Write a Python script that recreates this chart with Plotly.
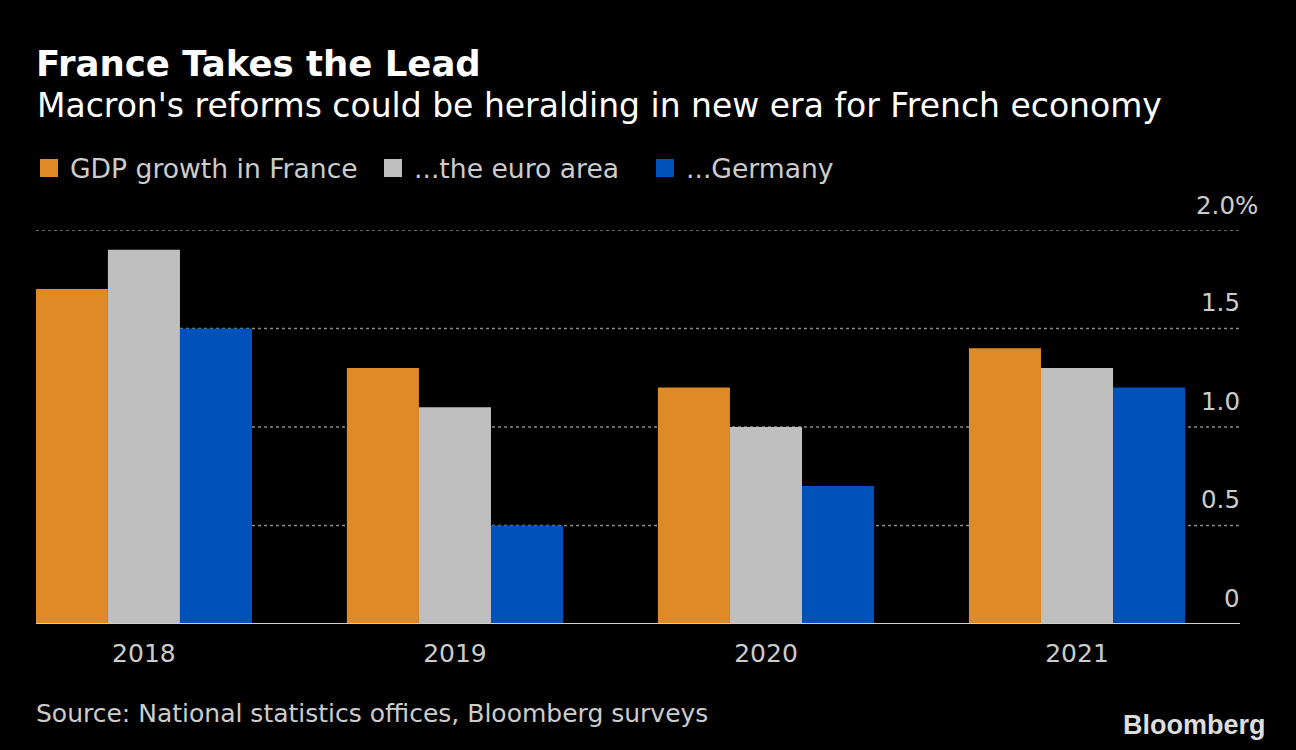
import plotly.graph_objects as go

years = ["2018", "2019", "2020", "2021"]
france = [1.7, 1.3, 1.2, 1.4]
euro_area = [1.9, 1.1, 1.0, 1.3]
germany = [1.5, 0.5, 0.7, 1.2]
series_names = ["GDP growth in France", "...the euro area", "...Germany"]
colors = ["#DE8A26", "#BFBFBF", "#0051BA"]
y_ticks = [0, 0.5, 1.0, 1.5, 2.0]
y_tick_labels = ["0", "0.5", "1.0", "1.5", "2.0%"]

FONT = "DejaVu Sans"
W, H = 1296, 750
L, R, T, B = 36, 56, 230, 126
PW, PH = W - L - R, H - T - B

fig = go.Figure()
for name, vals, col in zip(series_names, [france, euro_area, germany], colors):
    fig.add_trace(go.Bar(x=years, y=vals, name=name, marker=dict(color=col, line=dict(width=0)),
                         showlegend=False))

fig.update_layout(
    width=W, height=H,
    paper_bgcolor="black", plot_bgcolor="black",
    margin=dict(l=L, r=R, t=T, b=B),
    barmode="group", bargap=0.305, bargroupgap=0,
    font=dict(family=FONT, color="#CCCCCC"),
    xaxis=dict(range=[-0.347, 3.524], showgrid=False, zeroline=False, showline=False,
               ticks="", tickfont=dict(size=25, color="#CCCCCC"), ticklabelstandoff=12),
    yaxis=dict(range=[0, 2.0], showticklabels=False, showgrid=False, zeroline=False,
               showline=False, ticks=""),
)

# gridlines (dotted) and baseline
for v in y_ticks:
    if v == 0:
        fig.add_shape(type="line", xref="paper", yref="y", x0=0, x1=1, y0=0, y1=0,
                      line=dict(color="#CFCFCF", width=2), layer="above")
    else:
        fig.add_shape(type="line", xref="paper", yref="y", x0=0, x1=1, y0=v, y1=v,
                      line=dict(color="#8A8A8A", width=1.3, dash="3px,3px"), layer="below")

for v, lab in zip(y_ticks, y_tick_labels):
    pct = lab.endswith("%")
    fig.add_annotation(xref="paper", yref="y", x=1, y=v, text=lab, showarrow=False,
                       xanchor="right", yanchor="middle",
                       xshift=20 if pct else 2, yshift=25 if pct else 26,
                       font=dict(size=24.5, color="#CCCCCC", family=FONT))

# Titles
fig.add_annotation(xref="paper", yref="paper", x=0, y=1, xanchor="left", yanchor="middle",
                   xshift=-2, yshift=T - 63,
                   text="<b>France Takes the Lead</b>", showarrow=False,
                   font=dict(size=35.5, color="white", family=FONT))
fig.add_annotation(xref="paper", yref="paper", x=0, y=1, xanchor="left", yanchor="middle",
                   xshift=-1, yshift=T - 105,
                   text="Macron's reforms could be heralding in new era for French economy",
                   showarrow=False, font=dict(size=33, color="white", family=FONT))

# Legend (manual)
leg_x = [40, 384, 656]
for name, col, x0 in zip(series_names, colors, leg_x):
    fig.add_shape(type="rect", xref="paper", yref="paper",
                  x0=(x0 - L) / PW, x1=(x0 + 18 - L) / PW,
                  y0=1 + (T - 177) / PH, y1=1 + (T - 159) / PH,
                  fillcolor=col, line=dict(width=0))
    fig.add_annotation(xref="paper", yref="paper", x=(x0 + 28 - L) / PW, y=1,
                       yshift=T - 168, xanchor="left", yanchor="middle", text=name,
                       showarrow=False, font=dict(size=26.6, color="#CCCCCC", family=FONT))

# Source & logo
fig.add_annotation(xref="paper", yref="paper", x=0, y=0, xanchor="left", yanchor="middle",
                   xshift=-2, yshift=-(713 - (H - B)),
                   text="Source: National statistics offices, Bloomberg surveys",
                   showarrow=False, font=dict(size=25, color="#CCCCCC", family=FONT))
fig.add_annotation(xref="paper", yref="paper", x=1, y=0, xanchor="right", yanchor="middle",
                   xshift=1268 - (W - R), yshift=-(725 - (H - B)), text="<b>Bloomberg</b>",
                   showarrow=False, font=dict(size=27, color="#DDDDDD", family="Liberation Sans"))

fig.write_html("out.html", config={"displayModeBar": False},
               post_script="document.body.style.margin='0';")
